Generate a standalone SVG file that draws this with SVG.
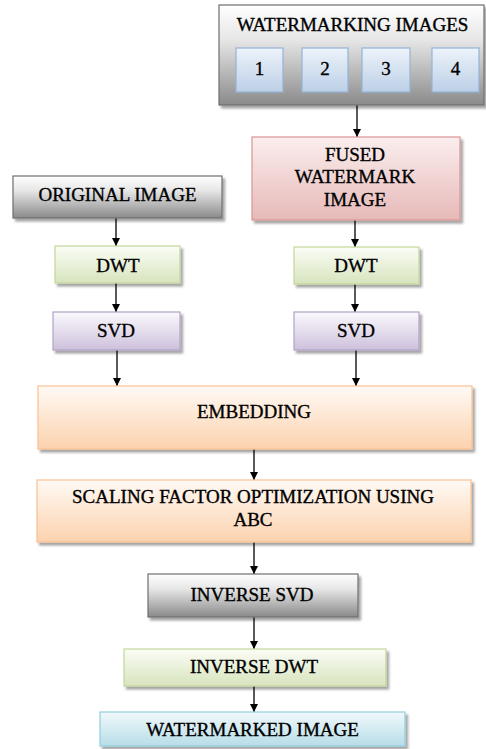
<svg xmlns="http://www.w3.org/2000/svg" width="486" height="749" viewBox="0 0 486 749">
<style>
text{font-family:"Liberation Serif","Times New Roman",serif;font-size:19px;fill:#000;stroke:#000;stroke-width:0.35;text-anchor:middle}
.n rect.b{stroke-width:1.2}
.gray{fill:url(#gGray);stroke:#6f6f6f}
.green{fill:url(#gGreen);stroke:#c3d69b}
.purple{fill:url(#gPurple);stroke:#b3a2c7}
.pink{fill:url(#gPink);stroke:#d99694}
.orange{fill:url(#gOrange);stroke:#fac090}
.blue{fill:url(#gBlue);stroke:#93cddd}
.small{fill:url(#gSmall);stroke:#95b3d7;stroke-width:1.2}
.c line{stroke:#000;stroke-width:1.3;marker-end:url(#ah)}
</style>
<defs>
<filter id="sh" x="-10%" y="-10%" width="130%" height="140%">
<feDropShadow dx="2.5" dy="3" stdDeviation="1.2" flood-color="#000" flood-opacity="0.35"/>
</filter>
<linearGradient id="gGray" x1="0" y1="0" x2="0" y2="1"><stop offset="0" stop-color="#ffffff"/><stop offset="0.35" stop-color="#e6e6e6"/><stop offset="1" stop-color="#8a8a8a"/></linearGradient>
<linearGradient id="gGreen" x1="0" y1="0" x2="0" y2="1"><stop offset="0" stop-color="#fbfdf6"/><stop offset="1" stop-color="#d7e4bd"/></linearGradient>
<linearGradient id="gPurple" x1="0" y1="0" x2="0" y2="1"><stop offset="0" stop-color="#fbf9fd"/><stop offset="1" stop-color="#cdc1dc"/></linearGradient>
<linearGradient id="gPink" x1="0" y1="0" x2="0" y2="1"><stop offset="0" stop-color="#fbeeee"/><stop offset="1" stop-color="#e6b9b8"/></linearGradient>
<linearGradient id="gOrange" x1="0" y1="0" x2="0" y2="1"><stop offset="0" stop-color="#fffaf5"/><stop offset="1" stop-color="#fcd2ae"/></linearGradient>
<linearGradient id="gBlue" x1="0" y1="0" x2="0" y2="1"><stop offset="0" stop-color="#f1f9fc"/><stop offset="1" stop-color="#b7dde8"/></linearGradient>
<linearGradient id="gSmall" x1="0" y1="0" x2="0" y2="1"><stop offset="0" stop-color="#edf3fa"/><stop offset="1" stop-color="#bccfe6"/></linearGradient>
<marker id="ah" viewBox="0 0 10 10" refX="10" refY="5" markerWidth="8" markerHeight="8" markerUnits="userSpaceOnUse" orient="auto">
<path d="M0,0 L10,5 L0,10 z" fill="#000"/>
</marker>
</defs>

<g class="c" id="connectors">
<line x1="357" y1="105" x2="357" y2="137"/>
<line x1="116" y1="218" x2="116" y2="246"/>
<line x1="116" y1="283" x2="116" y2="312"/>
<line x1="355" y1="220" x2="355" y2="247"/>
<line x1="355" y1="284" x2="355" y2="312"/>
<line x1="117" y1="350" x2="117" y2="386"/>
<line x1="356" y1="350" x2="356" y2="386"/>
<line x1="254" y1="449" x2="254" y2="480"/>
<line x1="254" y1="542" x2="254" y2="574"/>
<line x1="254" y1="617" x2="254" y2="649"/>
<line x1="254" y1="686" x2="254" y2="712"/>
</g>

<g class="n" id="watermarking-images">
<rect class="b gray" x="219" y="5" width="265" height="100" filter="url(#sh)"/>
<text x="352.5" y="31">WATERMARKING IMAGES</text>
</g>
<g class="n" id="wm1"><rect class="small" x="236" y="48" width="47" height="44"/><text x="259.5" y="75">1</text></g>
<g class="n" id="wm2"><rect class="small" x="302" y="48" width="46" height="44"/><text x="325" y="75">2</text></g>
<g class="n" id="wm3"><rect class="small" x="362" y="48" width="48" height="44"/><text x="386" y="75">3</text></g>
<g class="n" id="wm4"><rect class="small" x="432" y="48" width="47" height="44"/><text x="455.5" y="75">4</text></g>

<g class="n" id="fused">
<rect class="b pink" x="252" y="137" width="208" height="83" filter="url(#sh)"/>
<text x="355" y="161">FUSED</text>
<text x="355" y="183">WATERMARK</text>
<text x="355" y="206">IMAGE</text>
</g>

<g class="n" id="original">
<rect class="b gray" x="13" y="176" width="209" height="42" filter="url(#sh)"/>
<text x="117.5" y="201">ORIGINAL IMAGE</text>
</g>

<g class="n" id="dwt-left">
<rect class="b green" x="55" y="246" width="125" height="37" filter="url(#sh)"/>
<text x="118" y="272">DWT</text>
</g>
<g class="n" id="svd-left">
<rect class="b purple" x="53" y="312" width="127" height="38" filter="url(#sh)"/>
<text x="116" y="337">SVD</text>
</g>
<g class="n" id="dwt-right">
<rect class="b green" x="294" y="247" width="125" height="37" filter="url(#sh)"/>
<text x="356" y="272">DWT</text>
</g>
<g class="n" id="svd-right">
<rect class="b purple" x="294" y="312" width="125" height="38" filter="url(#sh)"/>
<text x="356" y="337">SVD</text>
</g>

<g class="n" id="embedding">
<rect class="b orange" x="38" y="386" width="434" height="63" filter="url(#sh)"/>
<text x="254" y="418">EMBEDDING</text>
</g>

<g class="n" id="scaling">
<rect class="b orange" x="37" y="480" width="434" height="62" filter="url(#sh)"/>
<text x="253" y="503">SCALING FACTOR OPTIMIZATION USING</text>
<text x="253" y="526">ABC</text>
</g>

<g class="n" id="inverse-svd">
<rect class="b gray" x="148" y="574" width="210" height="43" filter="url(#sh)"/>
<text x="252" y="601">INVERSE SVD</text>
</g>

<g class="n" id="inverse-dwt">
<rect class="b green" x="124" y="649" width="262" height="37" filter="url(#sh)"/>
<text x="254" y="673">INVERSE DWT</text>
</g>

<g class="n" id="watermarked">
<rect class="b blue" x="100" y="712" width="305" height="34" filter="url(#sh)"/>
<text x="252.5" y="736">WATERMARKED IMAGE</text>
</g>
</svg>
